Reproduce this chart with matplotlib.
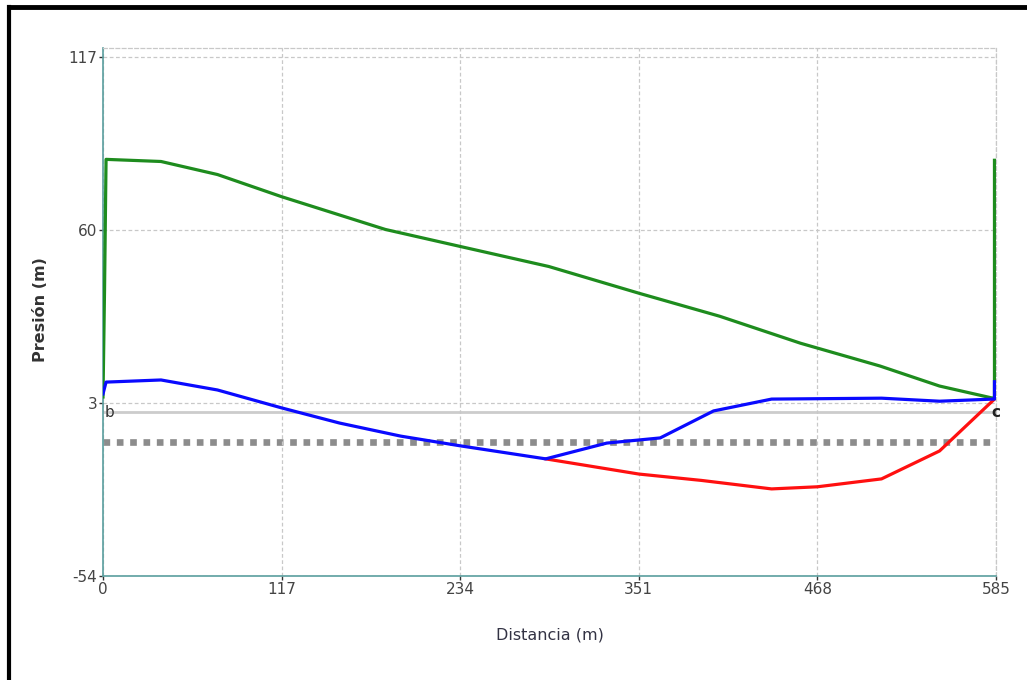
import matplotlib.pyplot as plt
from matplotlib.lines import Line2D

plt.rcParams['axes.unicode_minus'] = False

# perfil de presiones a lo largo de la conduccion
dist_verde = [0, 1, 2, 38, 75, 117, 185, 234, 292, 351, 404, 457, 509, 548, 583, 584, 584]
pres_verde = [5, 40, 83.3, 82.6, 78.3, 71, 60.2, 54.6, 48, 39.2, 31.6, 22.7, 15.2, 8.6, 4.6, 4.6, 83]

dist_azul = [0, 2, 38, 75, 117, 155, 195, 234, 290, 330, 365, 400, 438, 510, 548, 583, 584, 584]
pres_azul = [6, 9.9, 10.6, 7.3, 1.4, -3.6, -7.9, -11.1, -15.4, -10.2, -8.5, 0.4, 4.3, 4.6, 3.6, 4.3, 4.3, 10]

dist_rojo = [290, 351, 392, 438, 468, 510, 548, 584]
pres_rojo = [-15.4, -20.4, -22.5, -25.3, -24.6, -22, -12.8, 4.3]

x_ticks = [0, 117, 234, 351, 468, 585]
y_ticks = [-54, 3, 60, 117]
cota_cero = 0
cota_min = -10

fig = plt.figure(figsize=(10.27, 6.8), dpi=100)
ax = fig.add_axes([103 / 1027, 1 - 576 / 680, 893 / 1027, 528 / 680])

# lineas de referencia
ax.axhline(cota_cero, color='#cccccc', lw=2, zorder=1)
ax.axhline(cota_min, color='#8c8c8c', lw=4.8, linestyle=(0, (1, 1)), zorder=1)

ax.plot(dist_verde, pres_verde, color='#1e8c1e', lw=2.3, zorder=3)
ax.plot(dist_rojo, pres_rojo, color='#ff1010', lw=2.3, zorder=3)
ax.plot(dist_azul, pres_azul, color='#0a0aff', lw=2.3, zorder=4)

ax.text(1, cota_cero, 'b', fontsize=11, color='#333333', ha='left', va='center', zorder=5)
ax.text(585, cota_cero, 'c', fontsize=11, color='#222222', fontweight='bold',
        ha='center', va='center', zorder=5, clip_on=False)

ax.set_xlim(0, 585)
ax.set_ylim(-54, 120)
ax.set_xticks(x_ticks)
ax.set_yticks(y_ticks)
ax.grid(True, color='#c8c8c8', linestyle=(0, (3, 2)), lw=0.9)
ax.tick_params(axis='both', labelsize=11, labelcolor='#444444', color='#333333',
               length=3, width=1, direction='out', pad=1)

for lado in ['left', 'bottom']:
    ax.spines[lado].set_color('#5a9e9e')
    ax.spines[lado].set_linewidth(1.2)
for lado in ['top', 'right']:
    ax.spines[lado].set_color('#c8c8c8')
    ax.spines[lado].set_linestyle((0, (3, 2)))
    ax.spines[lado].set_linewidth(0.9)

ax.set_xlabel('Distancia (m)', fontsize=11.5, color='#333344', labelpad=22)
ax.set_ylabel('Presión (m)', fontsize=11.5, color='#333333', fontweight='bold')
ax.yaxis.set_label_coords(-0.062, 0.504)

# marco negro del recuadro
fig.add_artist(Line2D([9 / 1027, 1.0], [1 - 7 / 680, 1 - 7 / 680], color='black', lw=3.5,
                      transform=fig.transFigure))
fig.add_artist(Line2D([9 / 1027, 9 / 1027], [0, 1 - 7 / 680], color='black', lw=3,
                      transform=fig.transFigure))

fig.savefig('out.png', dpi=100)
